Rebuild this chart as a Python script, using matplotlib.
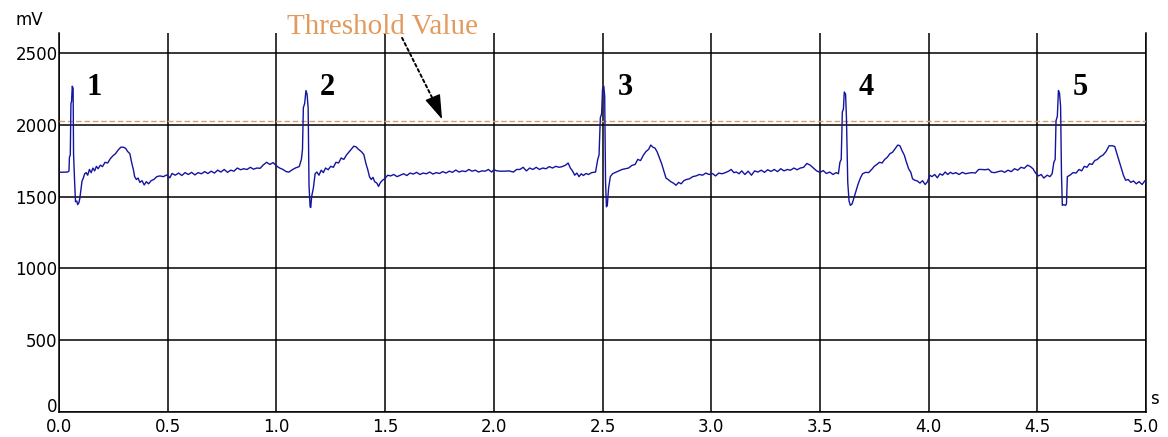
import matplotlib
matplotlib.use("Agg")
import matplotlib.pyplot as plt

# ECG trace, (time s, voltage mV), one segment per beat
beat1 = [
    (0.000, 1670), (0.040, 1672), (0.046, 1680), (0.048, 1775), (0.052, 1790),
    (0.055, 2150), (0.058, 2165), (0.061, 2270), (0.065, 2255), (0.067, 1800),
    (0.072, 1600), (0.076, 1465), (0.082, 1470), (0.086, 1445), (0.092, 1460),
    (0.096, 1490), (0.100, 1540), (0.106, 1610), (0.112, 1630), (0.118, 1660),
    (0.125, 1668), (0.132, 1650), (0.140, 1690), (0.148, 1668), (0.156, 1700),
    (0.164, 1680), (0.172, 1712), (0.180, 1695), (0.190, 1720), (0.200, 1710),
    (0.212, 1740), (0.224, 1735), (0.236, 1765), (0.248, 1785), (0.260, 1800),
    (0.272, 1825), (0.284, 1845), (0.296, 1845), (0.306, 1838), (0.316, 1815),
    (0.326, 1800), (0.334, 1740), (0.342, 1690), (0.348, 1640), (0.356, 1620),
    (0.364, 1630), (0.372, 1600), (0.382, 1612), (0.392, 1582), (0.402, 1605),
    (0.412, 1590), (0.424, 1612), (0.436, 1620), (0.450, 1640), (0.464, 1645),
    (0.480, 1640), (0.496, 1652), (0.510, 1632), (0.520, 1662), (0.535, 1650),
    (0.550, 1665), (0.565, 1648), (0.580, 1668), (0.595, 1655), (0.610, 1670),
    (0.625, 1652), (0.640, 1668), (0.655, 1660), (0.670, 1675), (0.685, 1662),
    (0.700, 1678), (0.715, 1665), (0.730, 1685), (0.745, 1672), (0.760, 1690),
    (0.775, 1670), (0.790, 1685), (0.805, 1678), (0.820, 1700), (0.835, 1688),
    (0.850, 1695), (0.865, 1690), (0.880, 1705), (0.895, 1692), (0.910, 1700),
    (0.925, 1698), (0.940, 1722), (0.955, 1740), (0.970, 1725), (0.985, 1738),
    (1.000, 1715), (1.015, 1700), (1.030, 1690), (1.045, 1675), (1.058, 1672),
    (1.075, 1690), (1.090, 1702), (1.105, 1710),
]
beat2 = [
    (1.115, 1760), (1.120, 1830), (1.124, 2120), (1.130, 2150), (1.136, 2240),
    (1.141, 2215), (1.146, 2120), (1.150, 1580), (1.155, 1430), (1.158, 1425),
    (1.162, 1500), (1.170, 1560), (1.178, 1660), (1.186, 1672), (1.196, 1650),
    (1.206, 1685), (1.216, 1668), (1.226, 1700), (1.238, 1688), (1.250, 1712),
    (1.262, 1705), (1.274, 1740), (1.286, 1735), (1.298, 1770), (1.310, 1760),
    (1.322, 1790), (1.334, 1812), (1.346, 1835), (1.356, 1852), (1.366, 1848),
    (1.378, 1830), (1.390, 1815), (1.402, 1795), (1.412, 1730), (1.420, 1690),
    (1.428, 1640), (1.436, 1620), (1.444, 1635), (1.452, 1605), (1.462, 1595),
    (1.470, 1572), (1.478, 1598), (1.488, 1615), (1.498, 1625), (1.512, 1650),
    (1.525, 1645), (1.540, 1655), (1.555, 1640), (1.570, 1650), (1.585, 1660),
    (1.600, 1648), (1.615, 1665), (1.630, 1658), (1.645, 1670), (1.660, 1655),
    (1.675, 1665), (1.690, 1660), (1.705, 1672), (1.720, 1658), (1.735, 1668),
    (1.750, 1662), (1.765, 1675), (1.780, 1665), (1.795, 1678), (1.810, 1670),
    (1.825, 1686), (1.840, 1672), (1.855, 1680), (1.870, 1675), (1.885, 1690),
    (1.900, 1678), (1.915, 1685), (1.930, 1672), (1.945, 1680), (1.960, 1678),
    (1.975, 1690), (1.990, 1672), (2.000, 1688), (2.015, 1680), (2.030, 1678),
    (2.050, 1678), (2.070, 1680), (2.090, 1672), (2.105, 1690), (2.120, 1690),
    (2.135, 1705), (2.150, 1680), (2.165, 1700), (2.180, 1690), (2.195, 1705),
    (2.210, 1690), (2.225, 1700), (2.240, 1695), (2.255, 1710), (2.270, 1700),
    (2.285, 1712), (2.300, 1705), (2.315, 1710), (2.330, 1720), (2.342, 1735),
    (2.352, 1700), (2.362, 1680), (2.372, 1650), (2.382, 1665), (2.392, 1640),
    (2.402, 1660), (2.412, 1648), (2.424, 1662), (2.436, 1655), (2.450, 1668),
    (2.468, 1672),
]
beat3 = [
    (2.478, 1760), (2.484, 1790), (2.490, 2050), (2.496, 2080), (2.500, 2250),
    (2.506, 2270), (2.510, 2200), (2.514, 1600), (2.518, 1430), (2.522, 1440),
    (2.528, 1560), (2.536, 1640), (2.546, 1660), (2.560, 1670), (2.575, 1680),
    (2.590, 1690), (2.605, 1695), (2.620, 1700), (2.635, 1718), (2.650, 1725),
    (2.662, 1760), (2.675, 1752), (2.688, 1790), (2.700, 1815), (2.712, 1830),
    (2.722, 1860), (2.732, 1845), (2.742, 1838), (2.752, 1810), (2.762, 1770),
    (2.772, 1730), (2.782, 1680), (2.792, 1630), (2.802, 1620), (2.814, 1605),
    (2.826, 1595), (2.838, 1580), (2.850, 1600), (2.862, 1590), (2.874, 1612),
    (2.886, 1620), (2.900, 1625), (2.915, 1640), (2.930, 1645), (2.945, 1655),
    (2.960, 1650), (2.975, 1665), (2.990, 1655), (3.005, 1662), (3.020, 1645),
    (3.035, 1665), (3.050, 1660), (3.065, 1668), (3.080, 1678), (3.092, 1690),
    (3.104, 1668), (3.116, 1672), (3.128, 1660), (3.140, 1680), (3.155, 1655),
    (3.170, 1678), (3.185, 1650), (3.200, 1680), (3.215, 1672), (3.230, 1685),
    (3.245, 1670), (3.260, 1688), (3.275, 1676), (3.290, 1690), (3.305, 1675),
    (3.320, 1695), (3.335, 1680), (3.350, 1690), (3.365, 1685), (3.380, 1700),
    (3.395, 1688), (3.410, 1700), (3.425, 1705), (3.440, 1732), (3.455, 1720),
    (3.470, 1700), (3.485, 1680), (3.500, 1670), (3.515, 1682), (3.530, 1662),
    (3.545, 1672), (3.560, 1655), (3.575, 1668), (3.585, 1660),
]
beat4 = [
    (3.592, 1740), (3.598, 1760), (3.603, 2090), (3.608, 2110), (3.612, 2230),
    (3.618, 2215), (3.622, 2050), (3.628, 1600), (3.634, 1470), (3.640, 1440),
    (3.648, 1450), (3.656, 1490), (3.666, 1540), (3.676, 1590), (3.686, 1630),
    (3.696, 1660), (3.710, 1670), (3.724, 1668), (3.738, 1690), (3.750, 1712),
    (3.762, 1725), (3.774, 1740), (3.786, 1735), (3.798, 1760), (3.810, 1775),
    (3.822, 1800), (3.834, 1810), (3.846, 1835), (3.858, 1860), (3.868, 1855),
    (3.878, 1820), (3.888, 1790), (3.898, 1740), (3.908, 1695), (3.918, 1670),
    (3.926, 1625), (3.936, 1615), (3.948, 1610), (3.960, 1595), (3.972, 1612),
    (3.984, 1585), (3.995, 1605), (4.005, 1650), (4.015, 1640), (4.028, 1655),
    (4.040, 1632), (4.052, 1660), (4.064, 1650), (4.076, 1672), (4.088, 1655),
    (4.100, 1670), (4.112, 1660), (4.125, 1668), (4.140, 1655), (4.155, 1670),
    (4.170, 1660), (4.185, 1665), (4.200, 1668), (4.215, 1665), (4.230, 1690),
    (4.245, 1690), (4.260, 1688), (4.275, 1692), (4.290, 1670), (4.305, 1668),
    (4.320, 1675), (4.335, 1680), (4.350, 1670), (4.365, 1685), (4.380, 1675),
    (4.395, 1695), (4.410, 1685), (4.425, 1705), (4.440, 1698), (4.455, 1720),
    (4.468, 1710), (4.480, 1695), (4.492, 1665), (4.505, 1645), (4.518, 1655),
    (4.530, 1630), (4.545, 1650), (4.558, 1640), (4.568, 1660),
]
beat5 = [
    (4.576, 1740), (4.582, 1760), (4.586, 2030), (4.592, 2060), (4.597, 2240),
    (4.602, 2220), (4.607, 2130), (4.611, 1660), (4.615, 1440), (4.622, 1445),
    (4.630, 1440), (4.634, 1450), (4.638, 1640), (4.650, 1650), (4.664, 1668),
    (4.678, 1665), (4.692, 1690), (4.704, 1680), (4.716, 1712), (4.728, 1705),
    (4.740, 1730), (4.752, 1725), (4.764, 1752), (4.776, 1760), (4.790, 1780),
    (4.802, 1790), (4.816, 1815), (4.830, 1855), (4.846, 1855), (4.856, 1850),
    (4.866, 1800), (4.876, 1750), (4.886, 1700), (4.896, 1650), (4.906, 1615),
    (4.918, 1620), (4.930, 1600), (4.942, 1610), (4.955, 1590), (4.968, 1605),
    (4.982, 1585), (4.995, 1612), (5.000, 1600),
]

r_peaks = [0.061, 1.136, 2.506, 3.612, 4.597]
beat_labels = ["1", "2", "3", "4", "5"]
threshold = 2030
x_ticks = [0.0, 0.5, 1.0, 1.5, 2.0, 2.5, 3.0, 3.5, 4.0, 4.5, 5.0]
y_ticks = [0, 500, 1000, 1500, 2000, 2500]

trace = beat1 + beat2 + beat3 + beat4 + beat5
t = [p[0] for p in trace]
mv = [p[1] for p in trace]

fig = plt.figure(figsize=(11.68, 4.37), dpi=100)
ax = fig.add_axes([0.0505, 0.0572, 0.9307, 0.867])

ax.set_xlim(0, 5)
ax.set_ylim(0, 2640)
ax.set_xticks(x_ticks)
ax.set_xticklabels([f"{v:.1f}" for v in x_ticks])
ax.set_yticks(y_ticks)
ax.set_yticklabels([str(v) for v in y_ticks])
ax.tick_params(length=0, labelsize=12)
ax.tick_params(axis="y", pad=1)
ax.tick_params(axis="x", pad=4)
ax.get_yticklabels()[0].set_va("baseline")
ax.grid(True, color="black", lw=1.1)
ax.set_axisbelow(True)
ax.spines["top"].set_visible(False)
for s in ["left", "right", "bottom"]:
    ax.spines[s].set_linewidth(1.1)

ax.axhline(threshold, color="#d9a070", lw=1.0, ls=(0, (4, 2)), zorder=3)
ax.plot(t, mv, color="#1414a0", lw=1.0, zorder=4)

for x, lab in zip(r_peaks, beat_labels):
    ax.text(x + 0.1, 2260, lab, family="Liberation Serif", weight="bold",
            fontsize=22, ha="center", va="center")

# threshold caption, dotted shaft and solid arrow head
ax.text(1.486, 2685, "Threshold Value", fontsize=21, family="Liberation Serif",
        color="#e39a5e", ha="center", va="center", clip_on=False)
ax.annotate("", xy=(1.738, 2125), xytext=(1.578, 2607), annotation_clip=False,
            arrowprops=dict(arrowstyle="-", color="black", lw=1.4, ls=(0, (1.5, 1.5)),
                            shrinkA=0, shrinkB=0))
ax.annotate("", xy=(1.762, 2040), xytext=(1.734, 2140), annotation_clip=False,
            arrowprops=dict(arrowstyle="-|>,head_length=0.85,head_width=0.28",
                            color="black", lw=1.0, shrinkA=0, shrinkB=0,
                            mutation_scale=18))

ax.text(-0.04, 1.035, "mV", transform=ax.transAxes, fontsize=12,
        ha="left", va="center")
ax.text(1.004, 0.035, "s", transform=ax.transAxes, fontsize=12,
        ha="left", va="center")

fig.savefig("out.png", dpi=100)
